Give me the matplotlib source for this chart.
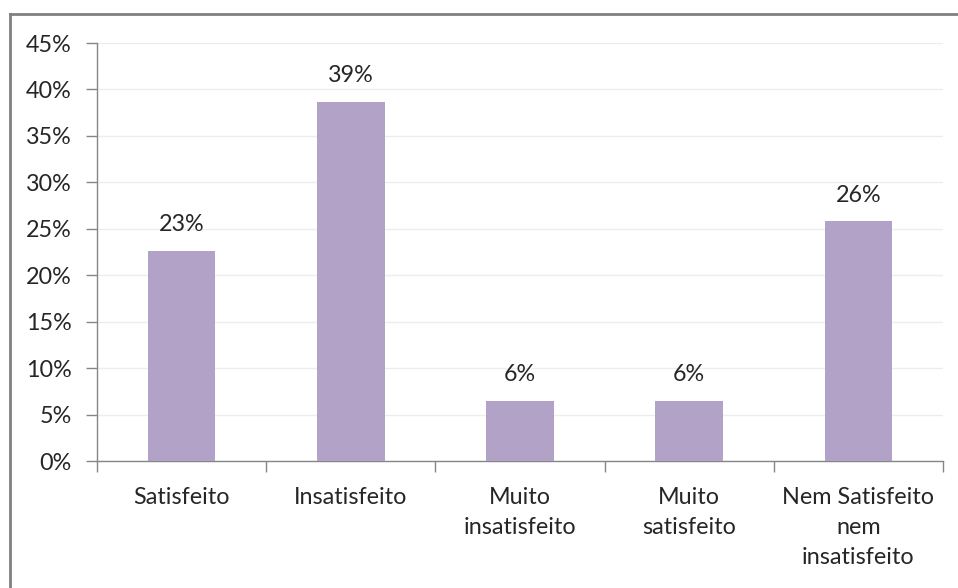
import matplotlib
matplotlib.use("Agg")
import matplotlib.pyplot as plt
from matplotlib.lines import Line2D
from matplotlib.ticker import FixedLocator, PercentFormatter
import numpy as np

categories = ["Satisfeito", "Insatisfeito", "Muito\ninsatisfeito", "Muito\nsatisfeito", "Nem Satisfeito\nnem\ninsatisfeito"]
values = [22.6, 38.7, 6.45, 6.45, 25.8]
labels = ["23%", "39%", "6%", "6%", "26%"]
yticks = [0, 5, 10, 15, 20, 25, 30, 35, 40, 45]

plt.rcParams['font.family'] = ['Lato', 'DejaVu Sans']
FS = 16.8
W, H = 958, 588
fig = plt.figure(figsize=(W/100, H/100), dpi=100)
ax = fig.add_axes([97/W, 1-461/H, (943-97)/W, (461-43)/H])

x = np.arange(len(categories))
bar_color = '#B3A2C7'
ax.bar(x, values, width=0.4, color=bar_color, zorder=3)
for xi, v, lab in zip(x, values, labels):
    ax.text(xi, v + 1.7, lab, ha='center', va='bottom', fontsize=FS, color='#262626')

ax.set_xlim(-0.5, len(categories) - 0.5)
ax.set_ylim(0, 45)
ax.set_yticks(yticks)
ax.yaxis.set_major_formatter(PercentFormatter(decimals=0))
ax.grid(axis='y', color='#EDEDED', linewidth=1, zorder=0)
ax.set_xticks(x)
ax.set_xticklabels(categories, fontsize=FS, color='#262626', linespacing=1.55)
ax.xaxis.set_minor_locator(FixedLocator(np.arange(-0.5, len(categories), 1.0)))
ax.tick_params(axis='x', which='major', length=0, pad=18.5)
ax.tick_params(axis='x', which='minor', length=8, color='#868686', width=1)
ax.tick_params(axis='y', length=8, color='#868686', width=1, labelsize=FS, labelcolor='#262626', pad=10)
for s in ['top', 'right']:
    ax.spines[s].set_visible(False)
for s in ['left', 'bottom']:
    ax.spines[s].set_color('#868686')
    ax.spines[s].set_linewidth(1)

# outer border
fig.add_artist(Line2D([9.5/W, 1], [1-13.5/H, 1-13.5/H], color='#808080', linewidth=2, transform=fig.transFigure))
fig.add_artist(Line2D([9.5/W, 9.5/W], [0, 1-13.5/H], color='#808080', linewidth=2, transform=fig.transFigure))

fig.savefig("out.png", dpi=100, facecolor='white')
